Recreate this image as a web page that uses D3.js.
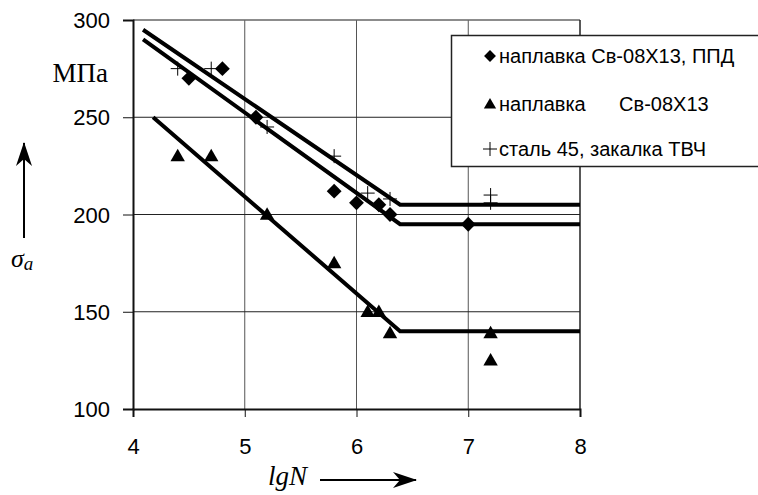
<!DOCTYPE html>
<html>
<head>
<meta charset="utf-8">
<script src="https://cdn.jsdelivr.net/npm/d3@7"></script>
<style>
  body { margin: 0; background: #fff; }
  svg { display: block; }
</style>
</head>
<body>
<div id="chart"></div>
<script>
// data
const xTicks = [4, 5, 6, 7, 8];
const yTicks = [100, 150, 200, 250, 300];

const diamondPts = [[4.5, 270], [4.8, 275], [5.1, 250], [5.8, 212], [6.0, 206], [6.2, 205], [6.3, 200], [7.0, 195]];
const trianglePts = [[4.4, 230], [4.7, 230], [5.2, 200], [5.8, 175], [6.1, 150], [6.2, 150], [6.3, 139], [7.2, 139], [7.2, 125]];
const crossPts = [[4.4, 275], [4.7, 275], [5.2, 245], [5.8, 230], [6.1, 211], [6.3, 208], [7.2, 210], [7.2, 206]];

const crossLine = [[4.09, 295], [6.39, 205], [8, 205]];
const diamondLine = [[4.09, 290], [6.39, 195], [8, 195]];
const triangleLine = [[4.18, 250], [6.39, 140], [8, 140]];

const legendLabels = ["наплавка Св-08Х13, ППД", "наплавка      Св-08Х13", "сталь 45, закалка ТВЧ"];

const width = 758, height = 495;
const margin = { left: 133, right: 178, top: 20, bottom: 86 };

const svg = d3.select("#chart").append("svg")
    .attr("width", width)
    .attr("height", height);

const x = d3.scaleLinear().domain([4, 8]).range([margin.left, width - margin.right]);
const y = d3.scaleLinear().domain([100, 300]).range([height - margin.bottom, margin.top]);

// grid
svg.append("g").selectAll("line")
    .data([5, 6, 7])
    .join("line")
    .attr("x1", d => x(d)).attr("x2", d => x(d))
    .attr("y1", y(300)).attr("y2", y(100))
    .attr("stroke", "#555").attr("stroke-width", 1);

svg.append("g").selectAll("line")
    .data([150, 200, 250])
    .join("line")
    .attr("x1", x(4)).attr("x2", x(8))
    .attr("y1", d => y(d)).attr("y2", d => y(d))
    .attr("stroke", "#222").attr("stroke-width", 1);

// frame
svg.append("line").attr("x1", x(4)).attr("x2", x(8)).attr("y1", y(300)).attr("y2", y(300))
    .attr("stroke", "#666").attr("stroke-width", 1.5);
svg.append("line").attr("x1", x(8)).attr("x2", x(8)).attr("y1", y(300)).attr("y2", y(100))
    .attr("stroke", "#222").attr("stroke-width", 1.5);

// axes
const sans = "'Liberation Sans', Arial, sans-serif";
const xAxis = svg.append("g")
    .attr("transform", `translate(0,${y(100)})`)
    .call(d3.axisBottom(x).tickValues(xTicks).tickSize(8).tickPadding(21).tickFormat(d3.format("d")));
const yAxis = svg.append("g")
    .attr("transform", `translate(${x(4)},0)`)
    .call(d3.axisLeft(y).tickValues(yTicks).tickSize(10).tickPadding(13).tickFormat(d3.format("d")));

[xAxis, yAxis].forEach(g => {
    g.select(".domain").attr("stroke", "#111").attr("stroke-width", 2);
    g.selectAll(".tick line").attr("stroke", "#111");
    g.selectAll(".tick text")
        .attr("fill", "#000")
        .style("font-family", sans)
        .style("font-size", "22px");
});
yAxis.selectAll(".tick text").attr("dy", "0.35em");

// regression lines
const line = d3.line().x(d => x(d[0])).y(d => y(d[1]));
[crossLine, diamondLine, triangleLine].forEach(l => {
    svg.append("path")
        .attr("d", line(l))
        .attr("fill", "none")
        .attr("stroke", "#000")
        .attr("stroke-width", 4);
});

// markers
const diamond = d3.symbol().type(d3.symbolSquare).size(110);
const triangle = d3.symbol().type(d3.symbolTriangle).size(90);
const cross = "M-7,0H7M0,-7V7";

svg.append("g").selectAll("path")
    .data(diamondPts)
    .join("path")
    .attr("d", diamond)
    .attr("transform", d => `translate(${x(d[0])},${y(d[1])}) rotate(45)`)
    .attr("fill", "#000");

svg.append("g").selectAll("path")
    .data(trianglePts)
    .join("path")
    .attr("d", triangle)
    .attr("transform", d => `translate(${x(d[0])},${y(d[1]) + 1})`)
    .attr("fill", "#000");

svg.append("g").selectAll("path")
    .data(crossPts)
    .join("path")
    .attr("d", cross)
    .attr("transform", d => `translate(${x(d[0])},${y(d[1])})`)
    .attr("stroke", "#000")
    .attr("stroke-width", 1)
    .attr("fill", "none");

// legend
const legend = svg.append("g");
legend.append("rect")
    .attr("x", 451.5).attr("y", 35.5)
    .attr("width", 320).attr("height", 131)
    .attr("fill", "#fff").attr("stroke", "#222").attr("stroke-width", 1.5);

const legendY = [56, 104, 149];
legend.append("path").attr("d", diamond).attr("fill", "#000")
    .attr("transform", `translate(490,${legendY[0]}) rotate(45) scale(0.8)`);
legend.append("path").attr("d", triangle).attr("fill", "#000")
    .attr("transform", `translate(490,${legendY[1] + 1}) scale(0.85)`);
legend.append("path").attr("d", cross).attr("stroke", "#000").attr("stroke-width", 1)
    .attr("transform", `translate(490,${legendY[2]})`);

legend.selectAll("text")
    .data(legendLabels)
    .join("text")
    .attr("x", 499)
    .attr("y", (d, i) => legendY[i])
    .attr("dy", "0.35em")
    .attr("xml:space", "preserve")
    .style("white-space", "pre")
    .style("font-family", sans)
    .style("font-size", "20px")
    .text(d => d);

// axis titles
const serif = "'Liberation Serif', 'Times New Roman', serif";
svg.append("text").attr("x", 108).attr("y", 82).attr("text-anchor", "end")
    .style("font-family", serif).style("font-size", "27px").text("МПа");

svg.append("text").attr("x", 11).attr("y", 267)
    .style("font-family", serif).style("font-size", "26px").style("font-style", "italic")
    .text("σ").append("tspan").attr("dy", 3).style("font-size", "19px").text("a");

svg.append("text").attr("x", 268).attr("y", 485)
    .style("font-family", serif).style("font-size", "27px").style("font-style", "italic")
    .text("lgN");

// arrows
svg.append("defs").append("marker")
    .attr("id", "arrow")
    .attr("viewBox", "0 0 24 16")
    .attr("refX", 23).attr("refY", 8)
    .attr("markerWidth", 24).attr("markerHeight", 16)
    .attr("markerUnits", "userSpaceOnUse")
    .attr("orient", "auto")
    .append("path").attr("d", "M0,0L24,8L0,16L7,8Z").attr("fill", "#000");

svg.append("line").attr("x1", 24).attr("y1", 238).attr("x2", 24).attr("y2", 143)
    .attr("stroke", "#000").attr("stroke-width", 2).attr("marker-end", "url(#arrow)");
svg.append("line").attr("x1", 320).attr("y1", 480).attr("x2", 416).attr("y2", 480)
    .attr("stroke", "#000").attr("stroke-width", 2).attr("marker-end", "url(#arrow)");
</script>
</body>
</html>
